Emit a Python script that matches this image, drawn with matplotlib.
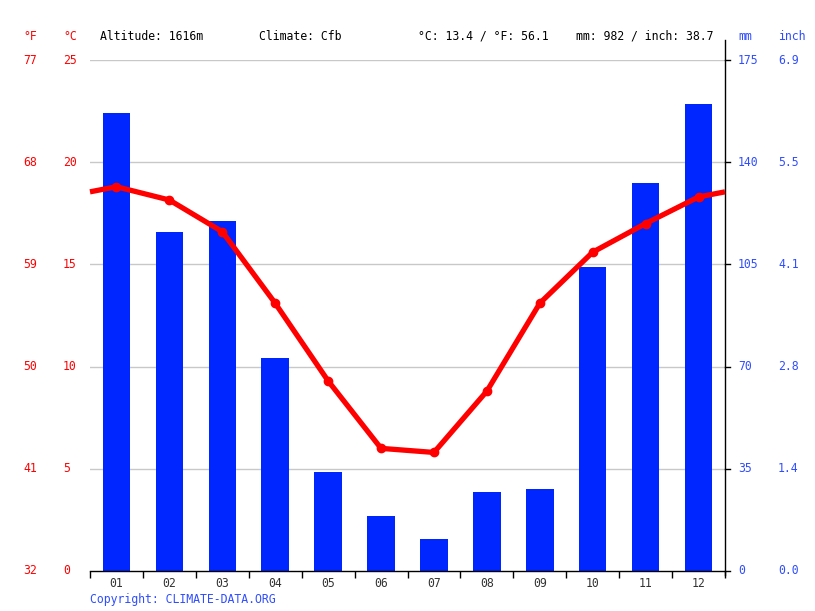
import matplotlib
matplotlib.use("Agg")
import matplotlib.pyplot as plt
import matplotlib.transforms as transforms
import numpy as np

months = ["01", "02", "03", "04", "05", "06", "07", "08", "09", "10", "11", "12"]
precip_mm = [157, 116, 120, 73, 34, 19, 11, 27, 28, 104, 133, 160]
temp_c = [18.8, 18.15, 16.6, 13.1, 9.3, 6.0, 5.8, 8.8, 13.1, 15.6, 17.0, 18.3]

c_ticks = [0, 5, 10, 15, 20, 25]
f_labels = ["32", "41", "50", "59", "68", "77"]
mm_ticks = [0, 35, 70, 105, 140, 175]
inch_labels = ["0.0", "1.4", "2.8", "4.1", "5.5", "6.9"]

header = ["Altitude: 1616m", "Climate: Cfb", "°C: 13.4 / °F: 56.1", "mm: 982 / inch: 38.7"]

RED = "#ff0000"
BAR = "#0026ff"
BLUE_TXT = "#2f4dff"
FONT = "DejaVu Sans Mono"
FS = 8.3

plt.rcParams["font.family"] = FONT

fig = plt.figure(figsize=(8.15, 6.11), dpi=100)
W, H = 815, 611
x0, x1, ytop, ybot = 90, 725, 60, 571
ax = fig.add_axes([x0 / W, 1 - ybot / H, (x1 - x0) / W, (ybot - ytop) / H])

x = np.arange(1, 13)
ax.bar(x, precip_mm, width=0.52, color=BAR, zorder=2)
ax.set_ylim(0, 175)
ax.set_xlim(0.5, 12.5)

# grid
for v in mm_ticks[1:]:
    ax.axhline(v, color="#c8c8c8", lw=1, zorder=1)

for s in ["top", "left", "right"]:
    ax.spines[s].set_visible(False)
ax.spines["bottom"].set_color("black")
ax.spines["bottom"].set_linewidth(1)
ax.spines["bottom"].set_zorder(5)

ax.set_yticks([])
ax.set_xticks(np.arange(0.5, 13, 1))
ax.set_xticklabels([])
ax.set_xticks(x, minor=True)
ax.set_xticklabels(months, minor=True, fontsize=FS, color="#333333")
ax.tick_params(axis="x", which="major", length=5, width=1, color="black", direction="out")
ax.tick_params(axis="x", which="minor", length=0, pad=4)

# right spine extending above the plot
ax.plot([1, 1], [-0.008, 1.04], transform=ax.transAxes, color="black", lw=1,
        clip_on=False, zorder=6)

ax2 = ax.twinx()
ax2.set_ylim(0, 25)
ax2.set_xlim(0.5, 12.5)
ax2.axis("off")
edge = (temp_c[0] + temp_c[-1]) / 2
tx = np.concatenate([[0.5], x, [12.5]])
ty = np.concatenate([[edge], temp_c, [edge]])
ax2.plot(tx, ty, color=RED, lw=3.8, solid_capstyle="butt", zorder=3, clip_on=False)
ax2.plot(x, temp_c, "o", color=RED, ms=6, zorder=4)

# axis labels as text
tl = transforms.blended_transform_factory(fig.transFigure, ax2.transData)
tr = transforms.blended_transform_factory(fig.transFigure, ax.transData)
for c, f in zip(c_ticks, f_labels):
    fig.text(63 / W, c, str(c), transform=tl, color=RED, fontsize=FS, va="center", ha="left")
    fig.text(23 / W, c, f, transform=tl, color=RED, fontsize=FS, va="center", ha="left")
for m, inch in zip(mm_ticks, inch_labels):
    fig.text(738 / W, m, str(m), transform=tr, color=BLUE_TXT, fontsize=FS, va="center", ha="left")
    fig.text(778 / W, m, inch, transform=tr, color=BLUE_TXT, fontsize=FS, va="center", ha="left")
    ax.plot([1, 1.008], [m, m], transform=transforms.blended_transform_factory(ax.transAxes, ax.transData),
            color="black", lw=1, clip_on=False)

hy = 1 - 36 / H
fig.text(23 / W, hy, "°F", color=RED, fontsize=FS, va="center", ha="left")
fig.text(63 / W, hy, "°C", color=RED, fontsize=FS, va="center", ha="left")
fig.text(738 / W, hy, "mm", color=BLUE_TXT, fontsize=FS, va="center", ha="left")
fig.text(778 / W, hy, "inch", color=BLUE_TXT, fontsize=FS, va="center", ha="left")
for px, t in zip([100, 259, 418, 576], header):
    fig.text(px / W, hy, t, color="black", fontsize=FS, va="center", ha="left")

fig.text(90 / W, 1 - 599 / H, "Copyright: CLIMATE-DATA.ORG", color=BLUE_TXT, fontsize=FS,
         va="center", ha="left")

fig.savefig("out.png", dpi=100)
